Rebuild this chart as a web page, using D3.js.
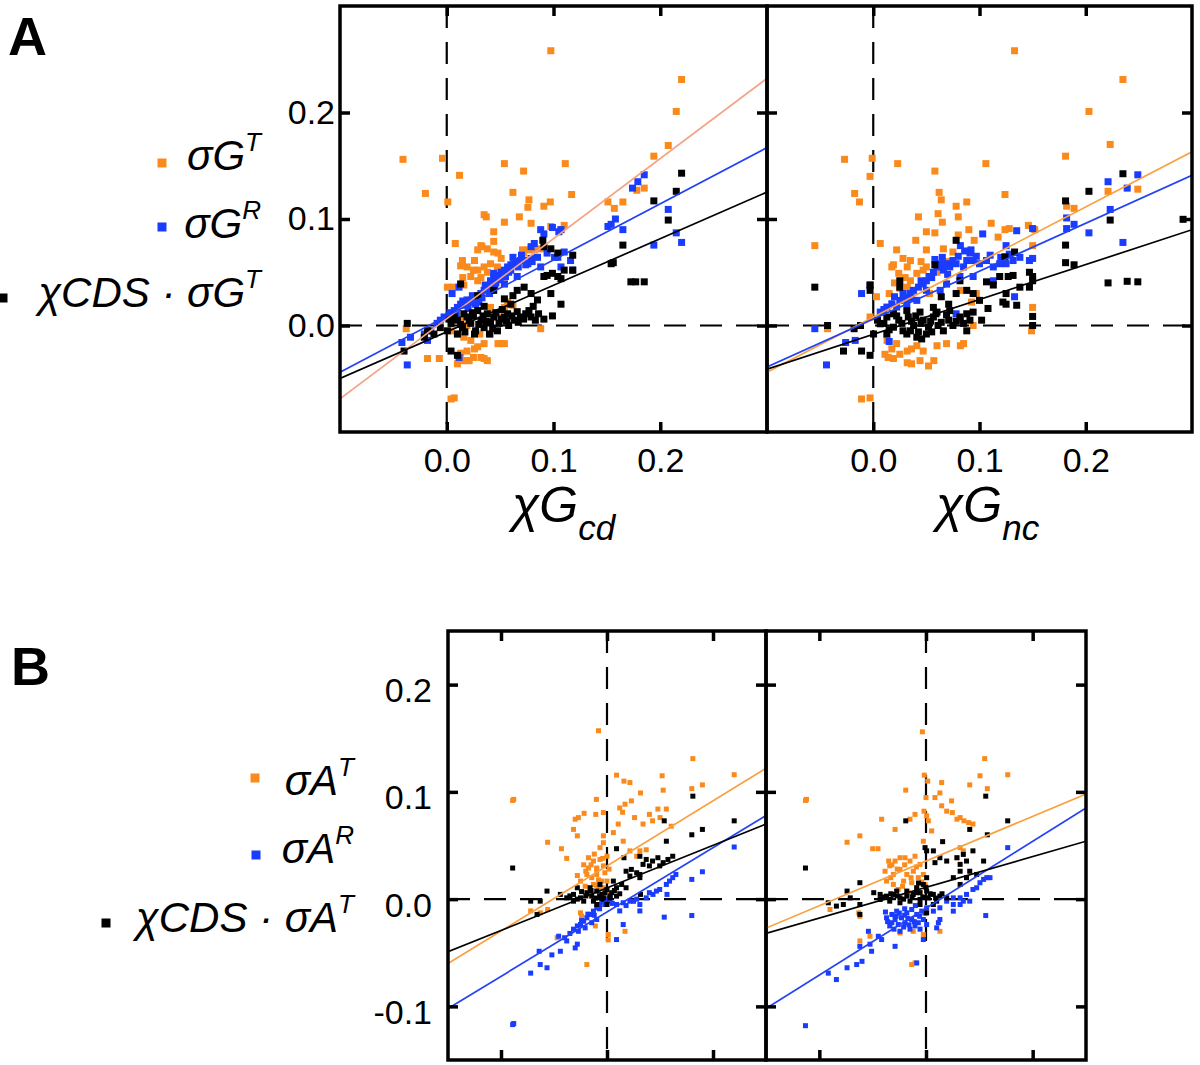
<!DOCTYPE html>
<html>
<head>
<meta charset="utf-8">
<script src="https://cdn.jsdelivr.net/npm/d3@7"></script>
<style>
  body { margin: 0; background: #fff; }
  svg { display: block; }
</style>
</head>
<body>
<div id="chart"></div>
<script>
// ---- data ----
// panel A, x = chi G_cd
var aCdGT = [[0.0975,0.258],[0.22,0.231],[0.215,0.201],[0.2075,0.169],[0.194,0.159],[-0.041,0.156],[-0.004,0.157],[0.012,0.141],[0.054,0.152],[0.072,0.145],[0.111,0.152],[-0.020,0.124],[0.001,0.116],[0.062,0.125],[0.077,0.118],[0.091,0.112],[0.097,0.116],[0.117,0.123],[0.151,0.116],[0.157,0.110],[0.165,0.116],[0.178,0.127],[0.185,0.129],[0.035,0.104],[0.037,0.102],[0.054,0.097],[0.068,0.102],[0.079,0.096],[0.044,0.088],[0.008,0.077],[0.044,0.079],[0.029,0.071],[0.033,0.074],[0.038,0.072],[0.044,0.069],[0.071,0.071],[0.079,0.072],[0.088,0.072],[0.0975,0.093],[0.11,0.094],[0.107,0.090],[0.0147,0.061],[0.019,0.055],[0.026,0.061],[0.029,0.052],[0.0225,0.046],[0.029,0.042],[0.035,0.055],[0.041,0.058],[0.0475,0.055],[0.051,0.049],[0.054,0.039],[0.0006,0.036],[0.062,0.019],[0.054,0.017],[0.088,-0.003],[0.010,-0.008],[0.016,-0.011],[0.0225,-0.014],[0.029,-0.020],[0.035,-0.017],[0.041,-0.008],[0.019,-0.024],[0.026,-0.022],[0.0147,-0.033],[0.021,-0.033],[0.010,-0.036],[0.035,-0.031],[0.051,-0.017],[0.054,-0.017],[-0.007,-0.031],[-0.018,-0.031],[-0.038,-0.003],[0.007,-0.068],[0.004,-0.069],[0.0225,0.024],[0.032,0.030],[0.041,0.017],[0.0475,0.008],[0.013,0.005],[0.019,0],[0.004,-0.005],[0.031,-0.008],[0.032,0.075],[0.048,0.068],[0.051,0.063],[0.013,0.056],[0.025,0.052],[0.032,0.045],[0.038,0.050],[0.015,0.045],[0.016,0.038],[0.0056,0.036],[0.076,0.071],[0.072,0.068],[0.082,0.071],[0.013,-0.026],[0.025,-0.030],[0.032,-0.030],[0.048,-0.017],[0.038,-0.033],[0.018,-0.033],[0.076,0.111],[0.057,0.022]];
var aCdGR = [[0.185,0.1415],[0.179,0.135],[0.174,0.129],[0.2075,0.109],[0.158,0.100],[0.154,0.095],[0.151,0.093],[0.165,0.090],[0.194,0.0755],[0.215,0.087],[0.22,0.078],[-0.037,-0.037],[-0.042,-0.016],[-0.018,-0.014],[0.088,0.090],[0.091,0.086],[0.099,0.092],[0.107,0.090],[0.105,0.088],[0.079,0.074],[0.082,0.077],[0.094,0.068],[0.101,0.064],[0.11,0.069],[0.118,0.052],[0.005,0.030],[0.0115,0.036],[-0.006,0.005],[-0.0025,0.008],[0.002,0.009],[0.007,0.014],[0.013,0.020],[0.016,0.019],[0.019,0.024],[0.0225,0.022],[0.026,0.025],[0.029,0.027],[0.032,0.030],[0.035,0.033],[0.038,0.036],[0.041,0.042],[0.044,0.046],[0.0475,0.047],[0.051,0.050],[0.054,0.052],[0.057,0.055],[0.060,0.057],[0.063,0.058],[0.066,0.060],[0.069,0.061],[0.0725,0.061],[0.076,0.058],[0.079,0.063],[0.085,0.064],[0.088,0.055],[0.054,0.039],[0.066,0.046],[0.041,0.033],[0.044,0.049],[0.049,0.046],[-0.015,-0.005],[-0.009,0.002],[-0.021,-0.008],[-0.034,-0.011],[0.0115,-0.030],[0.104,0.064],[0.116,0.061],[0.107,0.055],[0.01,0.017],[0.024,0.028],[0.03,0.022],[0.036,0.038],[0.046,0.040],[0.058,0.050],[0.07,0.066],[0.062,0.064],[0.003,0.012],[0.009,0.011],[0.015,0.023],[0.02,0.016],[0.027,0.02],[0.033,0.026],[0.04,0.030],[0.045,0.037],[0.05,0.043],[0.055,0.046],[0.06,0.052],[0.067,0.055],[0.074,0.057],[0.08,0.060]];
var aCdChi = [[0.22,0.143],[0.215,0.126],[0.194,0.117],[0.2075,0.099],[0.165,0.0755],[0.154,0.058],[0.156,0.059],[0.1725,0.041],[0.177,0.041],[0.185,0.041],[0.118,0.066],[0.11,0.052],[0.118,0.052],[0.090,0.080],[0.091,0.074],[0.0975,0.072],[0.104,0.068],[0.091,0.046],[0.094,0.047],[0.099,0.049],[0.104,0.046],[0.107,0.044],[0.0975,0.030],[0.107,0.020],[0.099,0.009],[0.091,0.006],[0.085,0.024],[0.079,0.030],[0.0725,0.036],[0.066,0.033],[0.062,0.028],[0.054,0.025],[0.044,0.033],[0.029,0.028],[0.013,0.039],[0.004,0.002],[0.010,0.005],[0.0147,-0.002],[0.019,0.008],[0.0225,0.002],[0.027,-0.005],[0.032,0.005],[0.035,-0.002],[0.040,-0.008],[0.044,0.008],[0.049,0.002],[0.054,0.008],[0.058,0.000],[0.063,0.005],[0.069,0.008],[0.074,0.011],[0.079,0.008],[0.083,0.005],[0.0475,-0.005],[0.010,-0.008],[0.016,0.011],[0.029,0.014],[0.038,0.011],[0.0006,-0.005],[-0.006,-0.002],[-0.012,-0.008],[-0.018,-0.005],[-0.021,-0.011],[-0.037,0.002],[-0.040,-0.024],[0.004,-0.024],[0.010,-0.028],[0.026,-0.008],[0.057,0.011],[0.066,0.013],[0.007,0.008],[0.024,0.012],[0.041,0.003],[0.052,0.015],[0.06,0.02],[0.035,0.018],[0.002,0.006],[0.013,0.001],[0.017,-0.006],[0.021,0.005],[0.025,0.009],[0.03,0.001],[0.034,0.009],[0.037,0.004],[0.043,-0.003],[0.046,0.012],[0.051,0.006],[0.056,0.004],[0.061,0.009],[0.067,0.003],[0.072,0.006],[0.077,0.014],[0.081,0.018],[0.086,0.011]];

// panel A, x = chi G_nc
var aNcGT = [[0.133,0.258],[0.235,0.231],[0.203,0.201],[0.223,0.170],[0.181,0.159],[-0.027,0.156],[-0.001,0.157],[-0.003,0.140],[0.023,0.152],[0.058,0.145],[0.106,0.152],[-0.0175,0.124],[-0.013,0.116],[0.062,0.125],[0.064,0.118],[0.078,0.112],[0.088,0.116],[0.124,0.123],[-0.055,0.075],[0.182,0.112],[0.189,0.110],[0.221,0.126],[0.249,0.128],[0.0425,0.102],[0.061,0.105],[0.065,0.097],[0.080,0.102],[0.050,0.088],[0.058,0.087],[0.111,0.096],[0.1175,0.083],[0.124,0.090],[0.128,0.091],[0.146,0.094],[0.152,0.090],[0.150,0.075],[0.0066,0.077],[0.022,0.071],[0.028,0.063],[0.035,0.061],[0.050,0.071],[0.066,0.072],[0.075,0.069],[0.0175,0.055],[0.019,0.057],[0.024,0.049],[0.032,0.055],[0.035,0.042],[0.041,0.049],[0.047,0.052],[0.050,0.055],[0.052,0.046],[0.025,0.035],[0.032,0.036],[0.038,0.033],[0.053,0.030],[0.069,0.039],[0.082,0.033],[0.0925,0.022],[0.097,0.030],[0.003,0.027],[-0.003,0.008],[-0.043,-0.003],[0.150,0.017],[0.149,-0.005],[0.094,0.000],[0.013,-0.014],[0.0175,-0.022],[0.022,-0.017],[0.025,-0.027],[0.032,-0.024],[0.036,-0.022],[0.041,-0.019],[0.014,-0.030],[0.019,-0.031],[0.032,-0.035],[0.036,-0.036],[0.044,-0.033],[0.052,-0.038],[0.057,-0.033],[0.047,-0.024],[0.060,-0.019],[0.069,-0.017],[0.082,-0.019],[0.085,-0.017],[0.011,-0.027],[-0.011,-0.069],[-0.003,-0.068],[0.03,0.045],[0.045,0.06],[0.06,0.05],[0.07,0.06],[0.08,0.085],[0.09,0.09],[0.095,0.08],[0.02,0.04],[0.04,0.08],[0.015,0.03]];
var aNcGR = [[0.249,0.1415],[0.239,0.129],[0.221,0.135],[0.182,0.101],[0.189,0.095],[0.182,0.091],[0.223,0.109],[0.203,0.087],[0.235,0.078],[0.150,0.091],[0.135,0.089],[0.133,0.027],[-0.055,-0.003],[-0.044,-0.037],[-0.026,-0.016],[-0.017,-0.014],[-0.011,0.030],[-0.003,0.038],[0.015,-0.015],[0.103,0.086],[0.092,0.071],[0.082,0.075],[0.125,0.075],[0.0066,0.0126],[0.0128,0.0173],[0.0175,0.0204],[0.022,0.0173],[0.025,0.0236],[0.030,0.0267],[0.0347,0.030],[0.0378,0.033],[0.0425,0.036],[0.047,0.039],[0.050,0.042],[0.053,0.046],[0.0566,0.050],[0.060,0.055],[0.063,0.058],[0.066,0.052],[0.069,0.058],[0.072,0.055],[0.075,0.061],[0.078,0.058],[0.085,0.055],[0.088,0.061],[0.091,0.068],[0.094,0.061],[0.100,0.058],[0.1066,0.061],[0.113,0.055],[0.119,0.058],[0.125,0.058],[0.1316,0.061],[0.138,0.064],[0.147,0.061],[0.150,0.063],[0.050,0.033],[0.041,0.0236],[0.0316,0.0204],[0.069,0.039],[0.063,0.033],[0.0816,0.046],[0.094,0.046],[0.113,0.042],[0.082,0.005],[0.078,0.011],[0.01,0.015],[0.02,0.027],[0.028,0.03],[0.036,0.026],[0.045,0.042],[0.055,0.045],[0.058,0.062],[0.065,0.064],[0.07,0.048],[0.08,0.065],[0.086,0.07],[0.097,0.065],[0.11,0.066],[0.12,0.064],[0.128,0.067]];
var aNcChi = [[0.235,0.1425],[0.203,0.126],[0.181,0.117],[0.223,0.099],[0.2916,0.0997],[0.181,0.0755],[0.181,0.059],[0.189,0.057],[0.221,0.040],[0.239,0.0415],[0.249,0.041],[-0.055,0.036],[-0.003,0.038],[-0.003,0.033],[0.078,0.080],[0.133,0.069],[0.124,0.0645],[0.025,0.042],[0.025,0.036],[0.058,0.057],[0.064,0.027],[0.071,0.020],[0.1066,0.041],[0.113,0.038],[0.119,0.046],[0.127,0.046],[0.1316,0.047],[0.147,0.050],[0.150,0.046],[0.150,0.042],[0.147,0.036],[0.138,0.036],[0.125,0.030],[0.122,0.022],[0.125,0.020],[0.135,0.019],[0.108,0.016],[0.102,0.005],[0.094,0.0126],[0.091,0.005],[0.100,0.0236],[0.094,0.030],[0.088,0.033],[0.078,0.030],[0.072,0.014],[0.060,0.0126],[0.0816,0.042],[0.150,0.0085],[0.150,0.000],[0.0066,0.0016],[0.0128,0.008],[0.019,-0.0016],[0.024,0.005],[0.028,-0.005],[0.033,0.008],[0.038,0.000],[0.0425,-0.006],[0.047,0.005],[0.052,-0.0016],[0.0566,0.008],[0.061,0.000],[0.066,-0.005],[0.071,0.005],[0.075,0.000],[0.0816,0.008],[0.088,-0.005],[0.019,0.011],[0.0316,0.014],[0.044,0.0126],[0.0566,0.017],[0.041,-0.011],[0.0316,-0.008],[0.050,-0.008],[0.0128,-0.008],[-0.012,0.000],[-0.018,-0.003],[-0.028,-0.024],[-0.011,-0.024],[-0.003,-0.028],[-0.043,0.000],[0.0003,-0.008],[0.0456,-0.0126],[0.088,0.011],[0.004,0.005],[0.01,0.002],[0.015,-0.004],[0.022,0.009],[0.027,0.002],[0.036,0.004],[0.04,0.009],[0.045,0.002],[0.054,0.004],[0.059,0.011],[0.064,0.003],[0.069,0.01],[0.078,0.004],[0.085,0.002],[0.035,-0.005],[0.055,-0.006]];

// panel B, left
var bCdAT = [[-0.008,0.157],[0.081,0.131],[0.120,0.116],[0.052,0.115],[0.053,0.1016],[0.009,0.1156],[0.016,0.110],[0.0216,0.1087],[0.080,0.103],[0.090,0.1065],[-0.089,0.092],[-0.088,0.093],[0.0316,0.099],[0.023,0.0916],[0.017,0.0885],[0.012,0.085],[0.0147,0.081],[-0.010,0.093],[-0.0216,0.080],[-0.030,0.0745],[-0.027,0.076],[-0.0106,0.079],[-0.0034,0.0807],[0.040,0.079],[0.050,0.076],[0.056,0.084],[0.048,0.084],[0.043,0.073],[0.0606,0.068],[0.026,0.076],[0.034,0.070],[0.006,0.062],[-0.0034,0.059],[-0.0034,0.0526],[0.0106,0.070],[-0.0316,0.065],[-0.028,0.059],[-0.056,0.053],[-0.043,0.047],[-0.038,0.038],[0.0153,0.054],[0.0216,0.045],[0.028,0.040],[0.031,0.045],[0.037,0.046],[-0.022,0.032],[-0.0175,0.0386],[-0.0128,0.0355],[-0.0097,0.029],[-0.0066,0.037],[-0.0034,0.031],[-0.019,0.023],[-0.0144,0.020],[-0.0097,0.023],[-0.005,0.0168],[-0.002,0.0246],[-0.025,0.0168],[-0.0206,0.012],[-0.0128,0.0137],[-0.008,0.009],[-0.0034,0.0106],[0.0,0.0168],[0.0012,0.0044],[-0.016,0.0044],[-0.0097,0.0277],[-0.0066,0.048],[0.0,0.040],[-0.0175,0.029],[-0.072,-0.011],[-0.063,-0.0128],[-0.056,-0.0097],[-0.025,-0.0128],[-0.024,-0.016],[-0.047,-0.036],[-0.019,-0.061],[0.0012,-0.033],[0.0012,-0.038],[0.017,-0.030],[-0.011,-0.025],[-0.015,0.032],[-0.012,0.042],[-0.008,0.018],[-0.004,0.038],[-0.02,0.026],[-0.01,0.013],[0.002,0.028],[-0.028,0.022]];
var bCdAR = [[-0.089,-0.117],[-0.088,-0.116],[0.120,0.0486],[0.080,0.0184],[0.090,0.0255],[0.054,-0.0168],[0.080,-0.0153],[0.0566,0.0044],[-0.072,-0.069],[-0.063,-0.061],[-0.0566,-0.064],[-0.064,-0.0486],[-0.052,-0.052],[-0.044,-0.0486],[-0.028,-0.042],[-0.038,-0.039],[-0.030,-0.0455],[-0.0456,-0.0346],[-0.0316,-0.028],[-0.028,-0.025],[-0.025,-0.0237],[-0.022,-0.0206],[-0.019,-0.0174],[-0.016,-0.0143],[-0.0128,-0.0112],[-0.0097,-0.0081],[-0.0066,-0.005],[-0.0034,-0.0019],[0.0,0.0],[-0.027,-0.030],[-0.0206,-0.0268],[-0.0144,-0.022],[-0.0097,-0.019],[0.0028,-0.0019],[0.009,-0.005],[0.0153,-0.0034],[0.0216,-0.0019],[0.028,0.0],[0.031,-0.005],[0.037,0.0012],[0.0434,0.0044],[0.0497,0.009],[0.056,0.0137],[0.062,0.020],[0.065,0.023],[0.059,0.0168],[0.0466,0.0075],[0.040,0.006],[0.012,-0.011],[0.0153,-0.0237],[0.031,-0.011],[0.009,-0.0377],[-0.024,-0.02],[-0.018,-0.014],[-0.012,-0.015],[-0.007,-0.009],[-0.002,-0.005],[0.005,-0.004],[0.018,-0.006],[0.025,-0.002],[-0.035,-0.032],[-0.04,-0.036]];
var bCdChi = [[-0.089,0.029],[0.081,0.096],[0.120,0.073],[0.054,0.073],[0.080,0.060],[0.090,0.065],[0.056,0.054],[0.009,0.047],[0.016,0.0386],[0.031,0.040],[0.018,0.026],[0.023,0.0277],[0.028,0.0246],[0.031,0.023],[0.0216,0.0215],[0.037,0.037],[0.043,0.0355],[0.048,0.0386],[0.053,0.034],[0.0575,0.037],[0.062,0.040],[0.0497,0.031],[0.040,0.031],[0.034,0.0324],[0.031,0.020],[-0.038,0.0012],[-0.0316,0.0044],[-0.025,0.0012],[-0.019,0.006],[-0.0144,0.0028],[-0.0097,0.0075],[-0.005,0.0044],[0.0,0.009],[0.0044,0.006],[0.009,0.0106],[0.0138,0.0137],[0.018,0.0106],[-0.0316,-0.0019],[-0.022,-0.0019],[-0.0128,-0.0019],[-0.0034,0.0012],[0.0028,0.0012],[0.009,0.0028],[-0.0066,0.0137],[0.006,0.0168],[-0.028,0.0106],[-0.016,0.0106],[-0.0566,0.0075],[-0.063,-0.0019],[-0.072,-0.0019],[-0.066,-0.0143],[-0.044,0.0044],[-0.0097,-0.005],[0.0,-0.005],[0.0316,0.0044],[-0.035,0.003],[-0.028,0.0],[-0.02,0.003],[-0.015,0.008],[-0.011,0.001],[-0.007,0.003],[-0.002,0.006],[0.003,0.003],[0.007,0.008],[0.012,0.005],[-0.024,0.007],[-0.005,0.0]];

// panel B, right
var bNcAT = [[-0.0034,0.156],[0.055,0.131],[0.0766,0.116],[0.0506,0.115],[0.0575,0.103],[0.041,0.1065],[-0.113,0.092],[-0.112,0.093],[-0.0016,0.1156],[0.0016,0.110],[0.0147,0.1087],[0.013,0.099],[0.0084,0.0947],[0.0,0.0947],[0.024,0.0916],[0.0147,0.087],[0.0194,0.082],[0.0247,0.0807],[0.032,0.076],[0.0356,0.073],[0.040,0.0713],[0.044,0.070],[0.029,0.0745],[-0.019,0.1016],[-0.0103,0.079],[-0.015,0.0745],[-0.029,0.065],[-0.0416,0.0745],[-0.062,0.059],[-0.074,0.053],[-0.050,0.047],[-0.045,0.047],[-0.0019,0.082],[0.0006,0.0776],[0.0022,0.073],[0.0053,0.0636],[-0.0025,0.054],[-0.0384,0.026],[-0.034,0.031],[-0.029,0.0355],[-0.0244,0.0386],[-0.0197,0.0386],[-0.015,0.0355],[-0.0103,0.040],[-0.0056,0.0324],[-0.0306,0.023],[-0.0244,0.0277],[-0.018,0.023],[-0.0119,0.026],[-0.0072,0.020],[-0.0025,0.023],[-0.037,0.0168],[-0.0306,0.0137],[-0.021,0.0168],[-0.0134,0.0153],[-0.0087,0.0106],[-0.0009,0.0137],[-0.026,0.009],[-0.0166,0.006],[-0.0056,0.006],[-0.035,0.0355],[0.032,0.048],[0.035,0.045],[0.029,0.0386],[-0.09,-0.0097],[-0.063,-0.0128],[-0.062,-0.016],[-0.0525,-0.0346],[-0.062,-0.039],[-0.0244,-0.0315],[-0.012,-0.030],[-0.0025,-0.033],[0.013,-0.030],[-0.0134,-0.061],[-0.0103,-0.0595],[-0.033,0.02],[-0.027,0.028],[-0.02,0.032],[-0.014,0.02],[-0.009,0.03],[-0.004,0.016],[-0.022,0.012],[-0.032,0.032]];
var bNcAR = [[-0.113,-0.118],[0.0766,0.048],[0.056,-0.0153],[-0.0916,-0.069],[-0.074,-0.064],[-0.065,-0.061],[-0.060,-0.058],[-0.051,-0.0486],[-0.062,-0.044],[-0.0525,-0.042],[-0.0447,-0.0346],[-0.054,-0.030],[-0.029,-0.044],[-0.0416,-0.0377],[-0.0087,-0.0595],[-0.084,-0.075],[-0.037,-0.0174],[-0.032,-0.0143],[-0.0275,-0.0112],[-0.023,-0.0174],[-0.018,-0.0128],[-0.0134,-0.0097],[-0.0087,-0.0143],[-0.004,-0.0112],[-0.032,-0.022],[-0.026,-0.0237],[-0.0197,-0.022],[-0.0134,-0.019],[-0.0072,-0.022],[-0.0025,-0.019],[-0.0244,-0.030],[-0.015,-0.028],[-0.0056,-0.028],[-0.029,-0.019],[-0.0103,-0.025],[0.0006,-0.0081],[0.0006,-0.0237],[-0.0025,-0.0377],[0.0069,-0.0112],[0.013,-0.0081],[0.0194,-0.0019],[0.0256,-0.005],[0.032,0.0012],[0.038,0.0044],[0.044,0.009],[0.0506,0.0153],[0.057,0.020],[0.0475,0.0106],[0.041,-0.0019],[0.032,-0.005],[0.0256,-0.0112],[0.013,-0.019],[0.0116,-0.022],[0.010,-0.0268],[0.035,-0.0019],[0.054,0.0184],[0.060,0.020],[0.0256,0.0012],[-0.034,-0.025],[-0.02,-0.015],[-0.01,-0.006],[-0.028,-0.016],[-0.016,-0.024],[-0.036,-0.021],[-0.03,-0.028],[-0.021,-0.026],[-0.017,-0.018],[-0.011,-0.021],[-0.006,-0.016],[-0.001,-0.013],[-0.025,-0.013],[-0.02,-0.009],[-0.038,-0.012]];
var bNcChi = [[-0.113,0.029],[0.056,0.096],[0.0766,0.073],[-0.019,0.073],[0.041,0.065],[0.0575,0.060],[0.0156,0.0536],[-0.0009,0.048],[0.0006,0.045],[0.0069,0.045],[0.0084,0.034],[0.013,0.0386],[-0.062,0.0153],[-0.074,0.0075],[-0.0916,-0.0034],[-0.062,-0.005],[-0.062,-0.0143],[0.0194,0.0355],[0.029,0.0386],[0.032,0.0324],[0.035,0.0417],[0.038,0.0355],[0.044,0.045],[0.032,0.026],[0.041,0.026],[0.038,0.020],[0.032,0.0137],[0.0475,0.023],[0.054,0.0355],[0.0256,0.020],[-0.049,0.006],[-0.043,0.0044],[-0.037,0.0028],[-0.0306,0.0044],[-0.0244,0.0012],[-0.018,0.0028],[-0.0119,0.0044],[-0.0056,0.006],[0.0006,0.0075],[0.0069,0.0044],[0.013,0.0028],[0.0194,0.0012],[-0.043,-0.0003],[-0.034,-0.0019],[-0.0244,-0.0034],[-0.015,-0.0019],[-0.0056,-0.0003],[0.0022,0.0012],[0.010,-0.0019],[-0.0087,0.0106],[-0.0025,0.0137],[0.0006,0.020],[-0.018,0.0075],[-0.0275,0.0075],[-0.071,0.0012],[-0.0775,-0.005],[-0.084,-0.0065],[0.0006,-0.0128],[0.0069,-0.005],[-0.0056,-0.005],[-0.04,0.002],[-0.033,0.005],[-0.027,0.003],[-0.021,0.0],[-0.013,0.002],[-0.009,0.006],[-0.003,0.002],[0.004,0.005],[0.009,0.001],[0.015,0.005],[-0.007,0.015],[0.0,0.011]];

// fitted lines, [slope, intercept], order: T, R, chi
var fitsACd = [[0.7525,0.0063],[0.5275,0.0088],[0.4375,-0.006]];
var fitsANc = [[0.5175,0.0078],[0.45,0.006],[0.3275,-0.0083]];
var fitsBCd = [[0.607,0.031],[0.6,-0.012],[0.397,0.0105]];
var fitsBNc = [[0.4167,0.0355],[0.623,-0.0085],[0.2867,0.011]];

var ticksA = [0, 0.1, 0.2];
var ticksBx = [-0.1, 0, 0.1];
var ticksBy = [-0.1, 0, 0.1, 0.2];

// ---- styles ----
var ORANGE = '#fb8a1c', BLUE = '#1a3cff', BLACK = '#000';
var FONT = '"Liberation Sans", Arial, Helvetica, sans-serif';

var svg = d3.select('#chart').append('svg')
    .attr('width', 1200).attr('height', 1065)
    .style('font-family', FONT);

var panels = [
    {id: 'acd', x0: 340, x1: 767, y0: 6, y1: 432, xd: [-0.1, 0.3], yd: [-0.1, 0.3],
     xt: ticksA, yt: ticksA, pts: [aCdGT, aCdGR, aCdChi], fits: fitsACd,
     lineCols: ['#f4a384', '#2342f5', BLACK], size: 7, xLabels: true, yLabels: true, yOff: 0},
    {id: 'anc', x0: 767, x1: 1192, y0: 6, y1: 432, xd: [-0.1, 0.3], yd: [-0.1, 0.3],
     xt: ticksA, yt: ticksA, pts: [aNcGT, aNcGR, aNcChi], fits: fitsANc,
     lineCols: ['#f9a040', '#2342f5', BLACK], size: 7, xLabels: true, yLabels: false},
    {id: 'bcd', x0: 448, x1: 766, y0: 631, y1: 1060, xd: [-0.15, 0.15], yd: [-0.15, 0.25],
     xt: ticksBx, yt: ticksBy, pts: [bCdAT, bCdAR, bCdChi], fits: fitsBCd,
     lineCols: ['#f9a040', '#2342f5', BLACK], size: 5, xLabels: false, yLabels: true, yOff: 6},
    {id: 'bnc', x0: 766, x1: 1086, y0: 631, y1: 1060, xd: [-0.15, 0.15], yd: [-0.15, 0.25],
     xt: ticksBx, yt: ticksBy, pts: [bNcAT, bNcAR, bNcChi], fits: fitsBNc,
     lineCols: ['#f9a040', '#2342f5', BLACK], size: 5, xLabels: false, yLabels: false}
];
var ptCols = [ORANGE, BLUE, BLACK];

panels.forEach(function(p) {
    var x = d3.scaleLinear().domain(p.xd).range([p.x0, p.x1]);
    var y = d3.scaleLinear().domain(p.yd).range([p.y1, p.y0]);

    svg.append('clipPath').attr('id', 'clip-' + p.id)
	.append('rect').attr('x', p.x0).attr('y', p.y0)
	.attr('width', p.x1 - p.x0).attr('height', p.y1 - p.y0);
    var g = svg.append('g').attr('clip-path', 'url(#clip-' + p.id + ')');

    // zero lines
    g.append('line').attr('x1', x(0)).attr('x2', x(0)).attr('y1', p.y0).attr('y2', p.y1)
	.attr('stroke', '#000').attr('stroke-width', 2.2).attr('stroke-dasharray', '22,14');
    g.append('line').attr('x1', p.x0).attr('x2', p.x1).attr('y1', y(0)).attr('y2', y(0))
	.attr('stroke', '#000').attr('stroke-width', 2.2).attr('stroke-dasharray', '22,14');

    // points
    p.pts.forEach(function(series, i) {
	g.selectAll('rect.s' + i).data(series).enter().append('rect')
	    .attr('class', 's' + i)
	    .attr('x', d => x(d[0]) - p.size / 2)
	    .attr('y', d => y(d[1]) - p.size / 2)
	    .attr('width', p.size).attr('height', p.size)
	    .attr('fill', ptCols[i]);
    });

    // fit lines
    p.fits.forEach(function(f, i) {
	g.append('line')
	    .attr('x1', x(p.xd[0])).attr('y1', y(f[0] * p.xd[0] + f[1]))
	    .attr('x2', x(p.xd[1])).attr('y2', y(f[0] * p.xd[1] + f[1]))
	    .attr('stroke', p.lineCols[i]).attr('stroke-width', 1.7);
    });

    // inward ticks on all sides
    var fmt = d => d.toFixed(1);
    var axB = svg.append('g').attr('transform', 'translate(0,' + p.y1 + ')')
	.call(d3.axisBottom(x).tickValues(p.xt).tickSizeInner(-10).tickSizeOuter(0)
	      .tickPadding(16).tickFormat(p.xLabels ? fmt : ''));
    var axT = svg.append('g').attr('transform', 'translate(0,' + p.y0 + ')')
	.call(d3.axisTop(x).tickValues(p.xt).tickSizeInner(-10).tickSizeOuter(0).tickFormat(''));
    var axL = svg.append('g').attr('transform', 'translate(' + p.x0 + ',0)')
	.call(d3.axisLeft(y).tickValues(p.yt).tickSizeInner(-10).tickSizeOuter(0)
	      .tickPadding(p.id == 'acd' ? 5 : 16).tickFormat(p.yLabels ? fmt : ''));
    var axR = svg.append('g').attr('transform', 'translate(' + p.x1 + ',0)')
	.call(d3.axisRight(y).tickValues(p.yt).tickSizeInner(-10).tickSizeOuter(0).tickFormat(''));
    [axB, axT, axL, axR].forEach(function(a) {
	a.select('.domain').remove();
	a.selectAll('line').attr('stroke-width', 3.5);
	a.attr('font-size', 34).attr('font-family', FONT);
	a.selectAll('text').attr('fill', '#000');
    });
    if (p.yOff) axL.selectAll('text').attr('transform', 'translate(0,' + p.yOff + ')');

    // frame
    svg.append('rect').attr('x', p.x0).attr('y', p.y0)
	.attr('width', p.x1 - p.x0).attr('height', p.y1 - p.y0)
	.attr('fill', 'none').attr('stroke', '#000').attr('stroke-width', 3.5);
});

// axis titles under panel A
function title(xPos, sub) {
    var t = svg.append('text').attr('x', xPos).attr('y', 522)
	.attr('font-size', 50).attr('font-style', 'italic');
    t.append('tspan').text('χG');
    t.append('tspan').attr('font-size', 35).attr('dy', 18).text(sub);
}
title(512, 'cd');
title(936, 'nc');

// legends
function legend(endX, base, sqX, sqY, color, main, sup, fs) {
    svg.append('rect').attr('x', sqX - 4.5).attr('y', sqY - 4.5)
	.attr('width', 9).attr('height', 9).attr('fill', color);
    var t = svg.append('text').attr('x', endX).attr('y', base)
	.attr('text-anchor', 'end').attr('font-size', fs).attr('font-style', 'italic');
    t.append('tspan').text(main);
    t.append('tspan').attr('font-size', fs * 0.62).attr('dy', -fs * 0.45).text(sup);
}
legend(261, 170, 162, 163, ORANGE, 'σG', 'T', 42);
legend(261, 238, 162, 227, BLUE, 'σG', 'R', 42);
legend(261, 307, 3, 298, BLACK, 'χCDS · σG', 'T', 42);
legend(354, 795, 255, 778, ORANGE, 'σA', 'T', 42);
legend(354, 863, 256, 855, BLUE, 'σA', 'R', 42);
legend(354, 932, 106, 923, BLACK, 'χCDS · σA', 'T', 42);

// panel letters
svg.append('text').attr('x', 8).attr('y', 55).attr('font-size', 54)
    .attr('font-weight', 'bold').text('A');
svg.append('text').attr('x', 11).attr('y', 685).attr('font-size', 54)
    .attr('font-weight', 'bold').text('B');
</script>
</body>
</html>
